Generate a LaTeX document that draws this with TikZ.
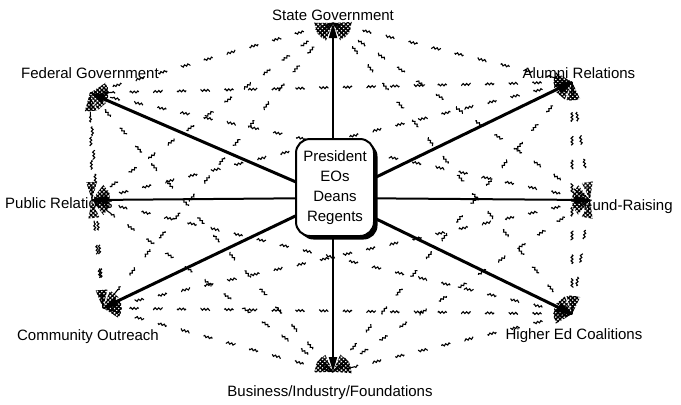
\documentclass[tikz,border=0pt]{standalone}
\usepackage{fontspec}
\setmainfont{Liberation Sans}
\usetikzlibrary{arrows.meta,decorations.pathmorphing,decorations.markings,patterns.meta,shadows}

\begin{document}
\begin{tikzpicture}[x=1bp,y=-1bp,
  lbl/.style={font=\fontsize{15bp}{18bp}\selectfont, inner sep=0pt, anchor=base},
  spoke/.style={line width=3bp, -{Triangle[length=15bp,width=9bp]}},
  axisspoke/.style={line width=2bp, -{Triangle[length=15bp,width=8bp]}},
  link/.style={line width=1.1bp, dash pattern=on 13bp off 21bp, decorate,
    decoration={snake, amplitude=0.9bp, segment length=3.5bp, pre length=22bp, post length=22bp}},
  hatchtip/.style={pattern={Hatch[angle=45,distance=3bp,line width=1.2bp]}},
  linkheads/.style={decorate, decoration={markings,
    mark=at position 0 with {\fill[hatchtip] (0bp,0bp) -- (18bp,5.5bp) -- (18bp,-5.5bp) -- cycle;},
    mark=at position 1 with {\fill[hatchtip] (0bp,0bp) -- (-18bp,5.5bp) -- (-18bp,-5.5bp) -- cycle;}}},
  centerbox/.style={draw, line width=2bp, rounded corners=14bp, fill=white,
    minimum width=78bp, minimum height=97bp, align=center, inner sep=0pt,
    font=\fontsize{15bp}{20bp}\selectfont,
    drop shadow={shadow xshift=3.5bp, shadow yshift=-3.5bp, fill=black, opacity=1}},
]
\useasboundingbox (0,0) rectangle (681,404);

% hubs where the relations converge
\coordinate (O) at (333,198);
\coordinate (S) at (333,23);
\coordinate (A) at (572,82);
\coordinate (R) at (590,200);
\coordinate (H) at (572,314);
\coordinate (B) at (333,372);
\coordinate (C) at (103,308);
\coordinate (P) at (92,200);
\coordinate (F) at (90,93);

% constituency labels
\node[lbl] (lS) at (333,20)  {State Government};
\node[lbl] (lF) at (90,78)   {Federal Government};
\node[lbl] (lA) at (579,78)  {Alumni Relations};
\node[lbl] (lP) at (59,208)  {Public Relations};
\node[lbl] (lR) at (628,210) {Fund-Raising};
\node[lbl] (lC) at (88,340)  {Community Outreach};
\node[lbl] (lH) at (574,339) {Higher Ed Coalitions};
\node[lbl] (lB) at (330,396) {Business/Industry/Foundations};

% informal links between constituencies
\foreach \a/\b in {S/A,S/R,S/H,S/C,S/P,S/F,
                   A/R,A/H,A/B,A/P,A/F,
                   R/H,R/B,R/C,R/F,
                   H/B,H/C,H/P,
                   B/C,B/P,B/F,
                   C/P,C/F,
                   P/F}{
  \draw[link] (\a) -- (\b);
  \path[linkheads] (\a) -- (\b);
}

% formal lines of authority from the central office
\draw[axisspoke] (O) -- (S);
\draw[axisspoke] (O) -- (B);
\draw[axisspoke] (O) -- (P);
\draw[axisspoke] (O) -- (R);
\draw[spoke] (O) -- (F);
\draw[spoke] (O) -- (A);
\draw[spoke] (O) -- (C);
\draw[spoke] (O) -- (H);

\node[centerbox] (office) at (335,187.5) {President\\EOs\\Deans\\Regents};
\end{tikzpicture}
\end{document}
